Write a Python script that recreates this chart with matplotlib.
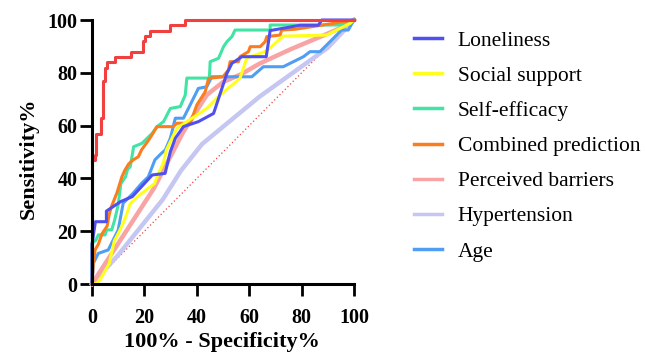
import matplotlib
matplotlib.use("Agg")
import matplotlib.pyplot as plt

# ROC curve vertices: (1 - specificity %, sensitivity %)
red_x = [0, 0, 1.0, 1.0, 1.4, 1.4, 3.4, 3.4, 4.3, 4.3, 5.0, 5.0, 5.9, 5.9, 8.8, 8.8,
         14.9, 14.9, 19.6, 19.6, 20.4, 20.4, 22.1, 22.1, 29.7, 29.7, 35.6, 35.6, 100]
red_y = [0, 47, 47, 49, 49, 57, 57, 63, 63, 77, 77, 82, 82, 84, 84, 86,
         86, 88, 88, 92, 92, 94, 94, 96, 96, 98, 98, 100, 100]

lonely_x = [0, 0, 1.3, 5.5, 5.5, 10.9, 15.4, 23.0, 27.9, 29.9, 31.8, 34.9, 40.6, 46.4,
            51.5, 53.4, 57.2, 66.5, 68.0, 79.4, 86.4, 87.7, 100]
lonely_y = [0, 15, 23.6, 23.6, 27.6, 31.2, 33.1, 41.3, 41.9, 50.1, 55.2, 59.6, 61.5, 64.6,
            79.8, 83.6, 86.1, 86.1, 96.0, 98.0, 98.0, 100, 100]

social_x = [0, 2.0, 3.8, 6.6, 8.5, 10.7, 12.7, 14.6, 18.5, 23.8, 25.4, 27.2, 28.4, 32.4,
            43.8, 48.9, 56.5, 59.0, 66.7, 73.0, 89.6, 98.5, 100]
social_y = [0, 0.3, 2.8, 7.8, 16.3, 20.5, 25.0, 30.5, 34.0, 38.0, 42.0, 45.7, 50.8, 59.0,
            66.5, 71.6, 77.9, 85.5, 88.3, 93.9, 94.3, 98.7, 100]

selfeff_x = [0, 0, 1.4, 2.4, 5.0, 5.6, 7.5, 8.6, 10.0, 11.0, 12.8, 13.6, 14.6, 15.9,
             19.1, 20.3, 22.9, 24.8, 27.3, 29.9, 33.7, 35.6, 36.2, 44.8, 45.1, 48.3,
             50.2, 51.5, 53.4, 54.6, 68.0, 68.0, 95.0, 100]
selfeff_y = [0, 15.5, 16.5, 18.6, 18.6, 20.5, 20.5, 24.0, 30.0, 38.0, 40.6, 43.5, 44.4, 52.0,
             53.3, 54.5, 57.0, 59.6, 61.5, 66.5, 67.2, 71.6, 78.0, 78.0, 84.2, 85.5,
             89.9, 91.8, 93.7, 96.2, 96.2, 98.1, 98.1, 100]

combined_x = [0, 0.5, 1.2, 2.4, 3.8, 5.8, 6.5, 7.3, 8.3, 9.5, 11.4, 12.6, 14.0, 15.7,
              17.7, 18.9, 21.6, 22.9, 24.8, 31.0, 32.4, 37.5, 40.0, 43.2, 44.5, 50.0,
              52.1, 52.7, 55.9, 56.5, 59.7, 60.4, 64.2, 66.1, 66.7, 71.8, 72.4, 77.5,
              92.0, 100]
combined_y = [0, 8.0, 13.0, 15.0, 19.0, 22.0, 26.0, 29.0, 31.5, 34.5, 40.6, 43.2, 45.5, 47.0,
              48.2, 50.8, 54.5, 56.5, 59.6, 59.6, 60.9, 60.9, 67.8, 72.8, 77.9, 78.5,
              81.1, 84.2, 84.2, 86.1, 88.0, 89.9, 89.9, 91.8, 93.7, 94.3, 96.2, 96.5,
              98.7, 100]

barriers_x = [0, 23.6, 34.9, 43.8, 50.0, 57.0, 64.0, 76.0, 88.0, 96.0, 100]
barriers_y = [0, 36.2, 57.7, 71.6, 76.5, 79.5, 83.5, 89.0, 94.0, 97.5, 100]

hyper_x = [0, 10, 27, 34, 42, 64, 90, 100]
hyper_y = [0, 11, 32, 43, 53, 71, 89.5, 100]

age_x = [0, 0.5, 2.4, 6.2, 10.0, 11.9, 15.7, 18.9, 21.5, 24.0, 26.5, 28.0, 29.9, 31.8,
         34.9, 36.8, 40.6, 43.8, 45.7, 61.0, 65.4, 73.0, 80.7, 83.2, 87.0, 95.3, 97.8, 100]
age_y = [0, 7.8, 11.6, 12.9, 20.5, 30.6, 34.4, 38.1, 40.6, 47.0, 49.5, 50.8, 55.2, 62.8,
         62.8, 66.5, 74.1, 74.7, 78.5, 78.5, 82.3, 82.3, 86.1, 88.0, 88.0, 96.2, 96.2, 100]

ticks = [0, 20, 40, 60, 80, 100]

serif = ['Liberation Serif', 'DejaVu Serif']

fig = plt.figure(figsize=(6.46, 3.52), dpi=100)
ax = fig.add_axes([92 / 646, 1 - 284 / 352, 262 / 646, 264 / 352])

# reference diagonal
ax.plot([0, 100], [0, 100], color='#F04040', lw=0.9, ls=(0, (1, 2)), clip_on=False)

ax.plot(hyper_x, hyper_y, color='#C6C6F2', lw=3.2, clip_on=False, label='Hypertension')
ax.plot(barriers_x, barriers_y, color='#F8A4A4', lw=3.2, clip_on=False, label='Perceived barriers')
ax.plot(age_x, age_y, color='#509EF4', lw=2.2, clip_on=False, label='Age')
ax.plot(selfeff_x, selfeff_y, color='#40E4A4', lw=2.2, clip_on=False, label='Self-efficacy')
ax.plot(combined_x, combined_y, color='#FA7E1E', lw=2.2, clip_on=False, label='Combined prediction')
ax.plot(social_x, social_y, color='#FFFF1E', lw=2.2, clip_on=False, label='Social support')
ax.plot(lonely_x, lonely_y, color='#5050F0', lw=2.2, clip_on=False, label='Loneliness')
ax.plot(red_x, red_y, color='#F04040', lw=2.2, clip_on=False)

ax.set_xlim(0, 100)
ax.set_ylim(0, 100)
ax.set_xticks(ticks)
ax.set_yticks(ticks)
ax.set_xticklabels([str(t) for t in ticks], family=serif, fontweight='bold', fontsize=14.5)
ax.set_yticklabels([str(t) for t in ticks], family=serif, fontweight='bold', fontsize=14.5)
ax.tick_params(axis='both', length=8.5, width=2)
ax.tick_params(axis='x', pad=8.5)
ax.tick_params(axis='y', pad=2)

for side in ['top', 'right']:
    ax.spines[side].set_visible(False)
for side in ['left', 'bottom']:
    ax.spines[side].set_linewidth(2.2)

ax.set_xlabel('100% - Specificity%', family=serif, fontweight='bold', fontsize=16)
ax.set_ylabel('Sensitivity%', family=serif, fontweight='bold', fontsize=16)
ax.xaxis.set_label_coords(0.497, -0.180)
ax.yaxis.set_label_coords(-0.203, 0.477)

order = ['Loneliness', 'Social support', 'Self-efficacy', 'Combined prediction',
         'Perceived barriers', 'Hypertension', 'Age']
handles, labels = ax.get_legend_handles_labels()
lookup = dict(zip(labels, handles))
leg = fig.legend([lookup[k] for k in order], order, loc='upper left',
                 bbox_to_anchor=(405 / 646, 1 - 22 / 352), frameon=False,
                 prop={'family': serif, 'size': 15.5}, handlelength=1.3,
                 handletextpad=0.75, labelspacing=0.7, borderaxespad=0)
for line in leg.get_lines():
    line.set_linewidth(2.5)

fig.savefig('out.png', dpi=100)
